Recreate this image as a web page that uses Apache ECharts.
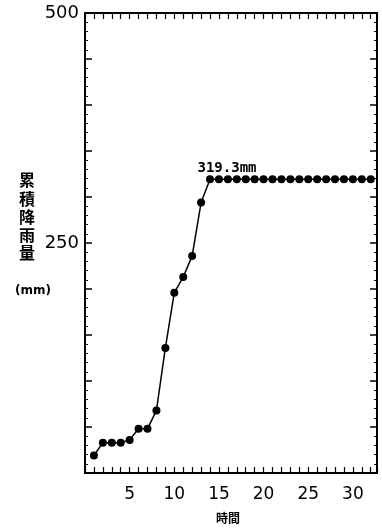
<!DOCTYPE html>
<html><head><meta charset="utf-8">
<script src="https://cdn.jsdelivr.net/npm/echarts@6/dist/echarts.min.js"></script>
<style>html,body{margin:0;padding:0;background:#fff}#c{width:382px;height:530px}</style>
</head><body><div id="c"></div>
<script>
// ---- data ----
const hours = [1,2,3,4,5,6,7,8,9,10,11,12,13,14,15,16,17,18,19,20,21,22,23,24,25,26,27,28,29,30,31,32];
const rainfall = [19,33,33,33,36,48,48,68,136,196,213,236,294,319.3,319.3,319.3,319.3,319.3,319.3,319.3,319.3,319.3,319.3,319.3,319.3,319.3,319.3,319.3,319.3,319.3,319.3,319.3];
const yTickLabels = [250, 500];
const xTickLabels = [5, 10, 15, 20, 25, 30];
const yAxisTitle = ['累','積','降','雨','量'];
const yUnit = '(mm)';
const xAxisTitle = '時間';
const peakIndex = 13;
const peakLabel = '319.3mm';

const chart = echarts.init(document.getElementById('c'), null, {renderer: 'canvas'});
const black = '#000';
const seriesData = hours.map((h, i) => {
  const item = {value: [h, rainfall[i]]};
  if (i === peakIndex) {
    item.label = {
      show: true, position: 'top', distance: 0, offset: [17, 0],
      formatter: peakLabel, color: black,
      fontFamily: 'DejaVu Sans Mono', fontSize: 14, fontWeight: 'bold'
    };
  }
  return item;
});

const xCommon = {
  type: 'value', min: 0, max: 32.7, interval: 1,
  axisLine: {show: true, onZero: false, lineStyle: {color: black, width: 2}},
  axisTick: {show: true, inside: true, length: 6, lineStyle: {color: black, width: 1.2}},
  splitLine: {show: false}
};
const yCommon = {
  type: 'value', min: 0, max: 500, interval: 50,
  axisLine: {show: true, onZero: false, lineStyle: {color: black, width: 2}},
  axisTick: {show: true, inside: true, length: 7, lineStyle: {color: black, width: 1.5}},
  minorTick: {show: true, splitNumber: 5, length: 3, lineStyle: {color: black, width: 1}},
  splitLine: {show: false}
};

chart.setOption({
  animation: false,
  backgroundColor: '#fff',
  grid: {left: 85, right: 5, top: 13, bottom: 57},
  xAxis: [
    Object.assign({}, xCommon, {
      position: 'bottom',
      axisLabel: {
        show: true, margin: 13, color: black, fontFamily: 'DejaVu Sans', fontSize: 17,
        formatter: v => xTickLabels.includes(v) ? String(v) : ''
      }
    }),
    Object.assign({}, xCommon, {position: 'top', axisLabel: {show: false}})
  ],
  yAxis: [
    Object.assign({}, yCommon, {
      position: 'left',
      axisLabel: {
        show: true, margin: 6, color: black, fontFamily: 'DejaVu Sans', fontSize: 18,
        formatter: v => yTickLabels.includes(v) ? String(v) : ''
      }
    }),
    Object.assign({}, yCommon, {position: 'right', axisLabel: {show: false}})
  ],
  series: [{
    type: 'line',
    xAxisIndex: 0, yAxisIndex: 0,
    data: seriesData,
    symbol: 'circle', symbolSize: 8,
    itemStyle: {color: black},
    lineStyle: {color: black, width: 1.5}
  }],
  graphic: [
    {type: 'text', left: 19, top: 171, style: {
      text: yAxisTitle.join('\n'), fill: black, fontFamily: 'Noto Sans CJK JP',
      fontSize: 16, fontWeight: 'bold', lineHeight: 18.3, align: 'center'
    }},
    {type: 'text', left: 15, top: 285, style: {
      text: yUnit, fill: black, fontFamily: 'DejaVu Sans', fontSize: 12, fontWeight: 'bold'
    }},
    {type: 'text', left: 216, top: 512, style: {
      text: xAxisTitle, fill: black, fontFamily: 'Noto Sans CJK JP', fontSize: 12, fontWeight: 'bold'
    }}
  ]
});
</script></body></html>
